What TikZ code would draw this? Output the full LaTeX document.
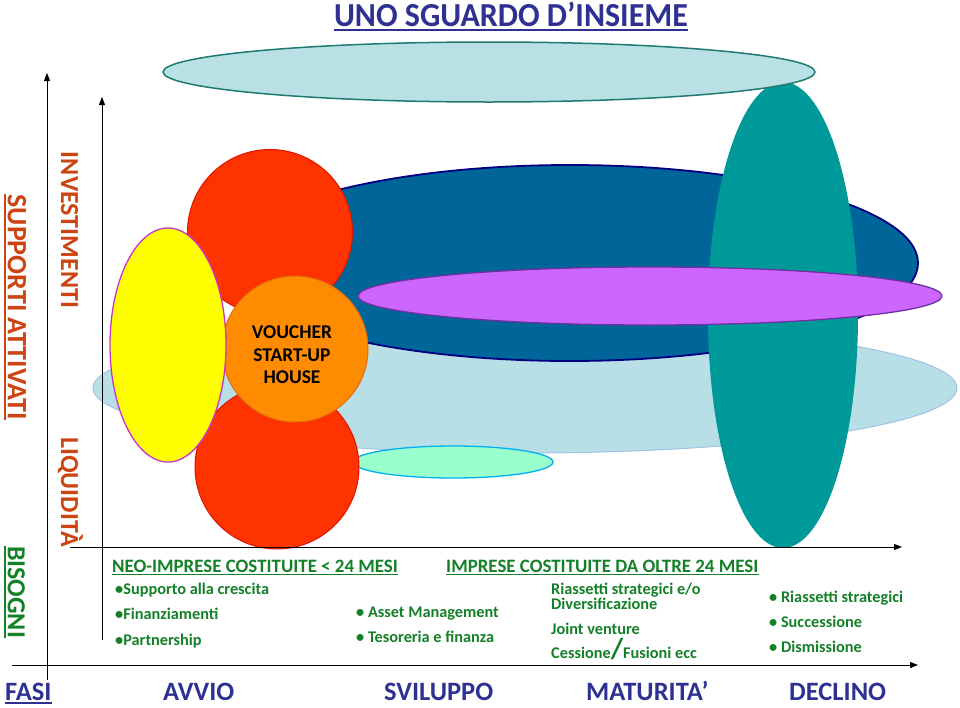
\documentclass[tikz,border=0pt]{standalone}
\usepackage{fontspec}
\setmainfont{Carlito}
\usetikzlibrary{shapes.geometric,arrows.meta}
\definecolor{navytxt}{RGB}{46,49,146}
\definecolor{rust}{RGB}{204,68,17}
\definecolor{grn}{RGB}{20,128,40}
\definecolor{lightblue}{RGB}{184,223,230}
\definecolor{lightblueline}{RGB}{157,195,230}
\definecolor{topfill}{RGB}{185,224,229}
\definecolor{topline}{RGB}{31,122,114}
\definecolor{darkblue}{RGB}{0,102,153}
\definecolor{darkline}{RGB}{0,0,128}
\definecolor{violetfill}{RGB}{204,102,255}
\definecolor{violetline}{RGB}{112,48,160}
\definecolor{tealc}{RGB}{0,153,153}
\definecolor{mint}{RGB}{153,255,204}
\definecolor{cyanline}{RGB}{0,176,240}
\definecolor{redc}{RGB}{255,51,0}
\definecolor{redline}{RGB}{220,20,0}
\definecolor{orangec}{RGB}{255,140,0}
\definecolor{orangeline}{RGB}{228,108,10}
\definecolor{yellowc}{RGB}{255,255,0}
\definecolor{magentaline}{RGB}{204,51,204}
\begin{document}
\begin{tikzpicture}[x=1pt,y=-1pt,
  blob/.style={ellipse, inner sep=0pt, outer sep=0pt},
  ball/.style={circle, inner sep=0pt, outer sep=0pt},
  axisline/.style={line width=1pt, black, -{Triangle[length=8pt,width=6pt]}},
  head/.style={anchor=base west, inner sep=0pt, text=grn, font=\bfseries\fontsize{18.9}{19}\selectfont},
  item/.style={anchor=base west, inner sep=0pt, text=grn, font=\bfseries\fontsize{16.3}{17}\selectfont},
  phase/.style={anchor=base west, inner sep=0pt, text=navytxt, font=\bfseries\fontsize{26.5}{28}\selectfont},
  sidelab/.style={rotate=-90, anchor=base, inner sep=0pt, font=\bfseries\fontsize{26}{26}\selectfont}]
\useasboundingbox (0,0) rectangle (960,707);
\fill[white] (0,0) rectangle (960,707);

% ellipses
\node[blob, fill=lightblue, draw=lightblueline, line width=1pt, minimum width=864pt, minimum height=130pt] (light) at (525,388) {};
\node[blob, fill=darkblue, draw=darkline, line width=1.8pt, minimum width=696pt, minimum height=196pt] (dark) at (570,263) {};
\node[blob, fill=mint, draw=cyanline, line width=1.3pt, minimum width=200pt, minimum height=32pt] (mintell) at (453,462) {};
\node[blob, fill=tealc, minimum width=150pt, minimum height=466pt] (teal) at (783,315) {};
\node[blob, fill=violetfill, draw=violetline, line width=1.3pt, minimum width=584pt, minimum height=58pt] (purple) at (650,296) {};
\node[blob, fill=topfill, draw=topline, line width=1.5pt, minimum width=652pt, minimum height=60pt] (topell) at (489,72) {};

% circles
\node[ball, fill=redc, draw=redline, line width=1pt, minimum size=165pt] (red1) at (270,232) {};
\node[ball, fill=redc, draw=redline, line width=1pt, minimum size=164pt] (red2) at (277,467) {};
\node[ball, fill=orangec, draw=orangeline, line width=1pt, minimum size=146pt] (orange) at (295,349) {};
\node[blob, fill=yellowc, draw=magentaline, line width=1.3pt, minimum width=116pt, minimum height=234pt] (yellow) at (168,345) {};
\node[align=center, font=\bfseries\fontsize{19.5}{22.5}\selectfont, text=black] (voucher) at (292,355) {VOUCHER\\START-UP\\HOUSE};

% axes
\coordinate (ob) at (47,680);
\coordinate (ot) at (47,73);
\coordinate (ib) at (102,640);
\coordinate (it) at (102,97);
\coordinate (hl) at (12,665);
\coordinate (hr) at (918,665);
\coordinate (il) at (70,547);
\coordinate (ir) at (902,547);
\draw[axisline] (ob) -- (ot);
\draw[axisline] (ib) -- (it);
\draw[axisline] (hl) -- (hr);
\draw[axisline] (il) -- (ir);

% title
\node[anchor=base, inner sep=0pt, text=navytxt, font=\bfseries\fontsize{32}{33}\selectfont, yscale=1.05] (title) at (511,26.5) {UNO SGUARDO D’INSIEME};
\draw[navytxt, line width=2pt] ([yshift=-3.5pt]title.base west) -- ([yshift=-3.5pt]title.base east);

% side labels
\node[sidelab, text=rust, font=\bfseries\fontsize{28}{28}\selectfont] (supp) at (8,307) {SUPPORTI ATTIVATI};
\draw[rust, line width=1.5pt] ([xshift=-3pt]supp.base west) -- ([xshift=-3pt]supp.base east);
\node[sidelab, text=grn] (biso) at (8,592) {BISOGNI};
\draw[grn, line width=1.5pt] ([xshift=-3pt]biso.base west) -- ([xshift=-3pt]biso.base east);
\node[sidelab, text=rust] (inv) at (61,230) {INVESTIMENTI};
\node[sidelab, text=rust] (liq) at (61,492) {LIQUIDITÀ};

% headings
\node[head] (neo) at (112,572) {NEO-IMPRESE COSTITUITE < 24 MESI};
\draw[grn, line width=1pt] ([yshift=-2.5pt]neo.base west) -- ([yshift=-2.5pt]neo.base east);
\node[head] (imp) at (446,572) {IMPRESE COSTITUITE DA OLTRE 24 MESI};
\draw[grn, line width=1pt] ([yshift=-2.5pt]imp.base west) -- ([yshift=-2.5pt]imp.base east);

% items
\node[item] (a1) at (115,594) {•Supporto alla crescita};
\node[item] (a2) at (115,619) {•Finanziamenti};
\node[item] (a3) at (115,645) {•Partnership};
\node[item] (s1) at (356,617) {•\ Asset Management};
\node[item] (s2) at (356,642) {•\ Tesoreria e finanza};
\node[item] (m1) at (551,594) {Riassetti strategici e/o};
\node[item] (m2) at (551,609) {Diversificazione};
\node[item] (m3) at (551,634) {Joint venture};
\node[item] (m4) at (551,658) {Cessione{\fontsize{29}{29}\selectfont/}Fusioni ecc};
\node[item] (d1) at (769,602) {•\ Riassetti strategici};
\node[item] (d2) at (769,627) {•\ Successione};
\node[item] (d3) at (769,652) {•\ Dismissione};

% phases
\node[phase] (fasi) at (5,700) {FASI};
\draw[navytxt, line width=1.3pt] ([yshift=-3pt]fasi.base west) -- ([yshift=-3pt]fasi.base east);
\node[phase] (avvio) at (163,700) {AVVIO};
\node[phase] (svil) at (384,700) {SVILUPPO};
\node[phase] (matu) at (586,700) {MATURITA’};
\node[phase] (decl) at (789,700) {DECLINO};
\end{tikzpicture}
\end{document}
